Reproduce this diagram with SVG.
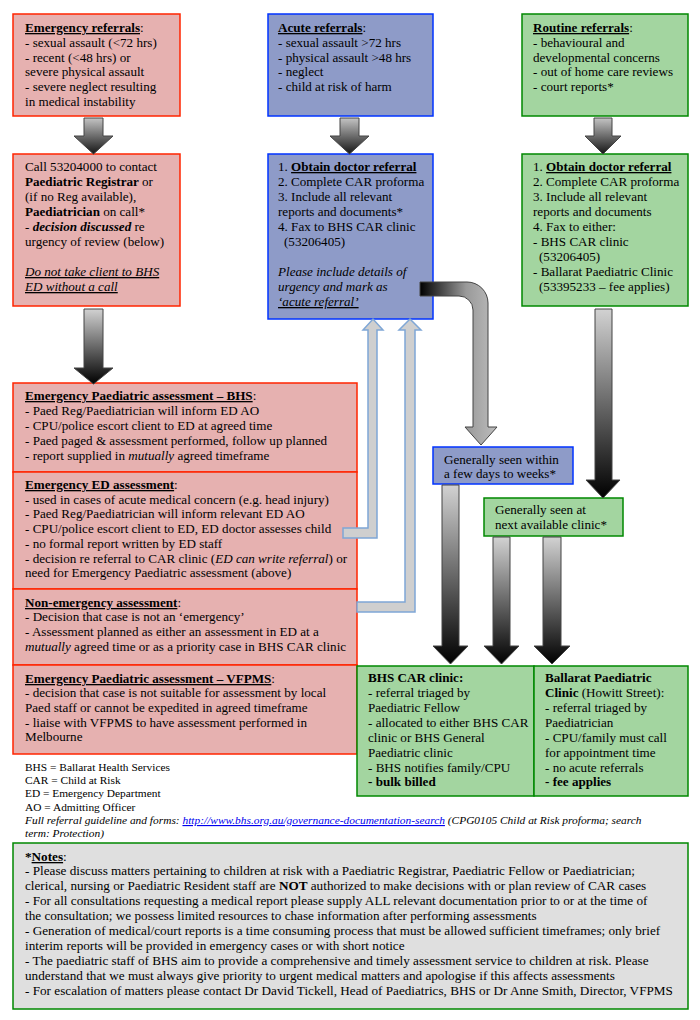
<svg xmlns="http://www.w3.org/2000/svg" width="700" height="1020" viewBox="0 0 700 1020">
<defs>
<style>
.t{font-family:"Liberation Serif","Times New Roman",serif;font-size:13.1px;fill:#000}
.n{font-size:13.2px}
.s{font-size:11.4px}
.b{font-weight:bold}
.i{font-style:italic}
.u{text-decoration:underline}
.lk{fill:#0000ee;text-decoration:underline}
.pk{fill:#e6b1b0;stroke:#ff2400;stroke-width:1.5}
.bl{fill:#8e9bc8;stroke:#0033ff;stroke-width:1.5}
.gr{fill:#a3d5a0;stroke:#008800;stroke-width:1.5}
.gy{fill:#dfdfdf;stroke:#008800;stroke-width:1.5}
.dk{stroke:#444;stroke-width:1}
.lt{fill:#cfcfcf;stroke:#7fa7d6;stroke-width:1.5}
</style>
<linearGradient id="gs" x1="0" y1="0" x2="0" y2="1"><stop offset="0" stop-color="#c4c4c4"/><stop offset="1" stop-color="#151515"/></linearGradient>
<linearGradient id="gl" x1="0" y1="0" x2="0" y2="1"><stop offset="0" stop-color="#d2d2d2"/><stop offset="1" stop-color="#000"/></linearGradient>
<linearGradient id="gc" x1="0" y1="0" x2="1" y2="0"><stop offset="0" stop-color="#000"/><stop offset="0.6" stop-color="#9a9a9a"/><stop offset="1" stop-color="#bdbdbd"/></linearGradient>
</defs>
<rect width="700" height="1020" fill="#fff"/>

<g id="emergency-referrals">
<rect class="pk" x="13" y="14" width="167" height="102"/>
<text class="t" x="25" y="32"><tspan class="b u">Emergency referrals</tspan>:</text>
<text class="t" x="25" y="47">- sexual assault (&lt;72 hrs)</text>
<text class="t" x="25" y="62">- recent (&lt;48 hrs) or</text>
<text class="t" x="25" y="76">severe physical assault</text>
<text class="t" x="25" y="91">- severe neglect resulting</text>
<text class="t" x="25" y="106">in medical instability</text>
</g>

<g id="emergency-call">
<rect class="pk" x="13" y="154" width="167" height="152"/>
<text class="t" x="25" y="171">Call 53204000 to contact</text>
<text class="t" x="25" y="186"><tspan class="b">Paediatric Registrar</tspan> or</text>
<text class="t" x="25" y="201">(if no Reg available),</text>
<text class="t" x="25" y="216"><tspan class="b">Paediatrician</tspan> on call*</text>
<text class="t" x="25" y="231">- <tspan class="b i">decision discussed</tspan> re</text>
<text class="t" x="25" y="246">urgency of review (below)</text>
<text class="t i u" x="25" y="276">Do not take client to BHS</text>
<text class="t i u" x="25" y="291">ED without a call</text>
</g>

<g id="acute-referrals">
<rect class="bl" x="268" y="14" width="165" height="102"/>
<text class="t" x="278" y="32"><tspan class="b u">Acute referrals</tspan>:</text>
<text class="t" x="278" y="47">- sexual assault &gt;72 hrs</text>
<text class="t" x="278" y="62">- physical assault &gt;48 hrs</text>
<text class="t" x="278" y="76">- neglect</text>
<text class="t" x="278" y="91">- child at risk of harm</text>
</g>

<g id="acute-steps">
<rect class="bl" x="268" y="154" width="165" height="165"/>
<text class="t" x="278" y="171">1. <tspan class="b u">Obtain doctor referral</tspan></text>
<text class="t" x="278" y="186">2. Complete CAR proforma</text>
<text class="t" x="278" y="201">3. Include all relevant</text>
<text class="t" x="278" y="216">reports and documents*</text>
<text class="t" x="278" y="231">4. Fax to BHS CAR clinic</text>
<text class="t" x="284" y="246">(53206405)</text>
<text class="t i" x="278" y="276">Please include details of</text>
<text class="t i" x="278" y="291">urgency and mark as</text>
<text class="t i u" x="278" y="306">‘acute referral’</text>
</g>

<g id="routine-referrals">
<rect class="gr" x="522" y="14" width="166" height="102"/>
<text class="t" x="533" y="32"><tspan class="b u">Routine referrals</tspan>:</text>
<text class="t" x="533" y="47">- behavioural and</text>
<text class="t" x="533" y="62">developmental concerns</text>
<text class="t" x="533" y="76">- out of home care reviews</text>
<text class="t" x="533" y="91">- court reports*</text>
</g>

<g id="routine-steps">
<rect class="gr" x="522" y="154" width="166" height="152"/>
<text class="t" x="533" y="171">1. <tspan class="b u">Obtain doctor referral</tspan></text>
<text class="t" x="533" y="186">2. Complete CAR proforma</text>
<text class="t" x="533" y="201">3. Include all relevant</text>
<text class="t" x="533" y="216">reports and documents</text>
<text class="t" x="533" y="231">4. Fax to either:</text>
<text class="t" x="533" y="246">- BHS CAR clinic</text>
<text class="t" x="539" y="261">(53206405)</text>
<text class="t" x="533" y="276">- Ballarat Paediatric Clinic</text>
<text class="t" x="539" y="291">(53395233 – fee applies)</text>
</g>

<g id="emergency-paed-bhs">
<rect class="pk" x="13" y="383" width="344" height="89"/>
<text class="t" x="25" y="400"><tspan class="b u">Emergency Paediatric assessment – BHS</tspan>:</text>
<text class="t" x="25" y="415">- Paed Reg/Paediatrician will inform ED AO</text>
<text class="t" x="25" y="430">- CPU/police escort client to ED at agreed time</text>
<text class="t" x="25" y="445">- Paed paged &amp; assessment performed, follow up planned</text>
<text class="t" x="25" y="460">- report supplied in <tspan class="i">mutually</tspan> agreed timeframe</text>
</g>

<g id="emergency-ed">
<rect class="pk" x="13" y="472" width="344" height="117"/>
<text class="t" x="25" y="489"><tspan class="b u">Emergency ED assessment</tspan>:</text>
<text class="t" x="25" y="504">- used in cases of acute medical concern (e.g. head injury)</text>
<text class="t" x="25" y="518">- Paed Reg/Paediatrician will inform relevant ED AO</text>
<text class="t" x="25" y="533">- CPU/police escort client to ED, ED doctor assesses child</text>
<text class="t" x="25" y="548">- no formal report written by ED staff</text>
<text class="t" x="25" y="563">- decision re referral to CAR clinic (<tspan class="i">ED can write referral</tspan>) or</text>
<text class="t" x="25" y="577">need for Emergency Paediatric assessment (above)</text>
</g>

<g id="non-emergency">
<rect class="pk" x="13" y="589" width="344" height="76"/>
<text class="t" x="25" y="607"><tspan class="b u">Non-emergency assessment</tspan>:</text>
<text class="t" x="25" y="621">- Decision that case is not an ‘emergency’</text>
<text class="t" x="25" y="636">- Assessment planned as either an assessment in ED at a</text>
<text class="t" x="25" y="651"><tspan class="i">mutually</tspan> agreed time or as a priority case in BHS CAR clinic</text>
</g>

<g id="emergency-vfpms">
<rect class="pk" x="13" y="665" width="344" height="89"/>
<text class="t" x="25" y="683"><tspan class="b u">Emergency Paediatric assessment – VFPMS</tspan>:</text>
<text class="t" x="25" y="697">- decision that case is not suitable for assessment by local</text>
<text class="t" x="25" y="712">Paed staff or cannot be expedited in agreed timeframe</text>
<text class="t" x="25" y="727">- liaise with VFPMS to have assessment performed in</text>
<text class="t" x="25" y="741">Melbourne</text>
</g>

<g id="seen-acute">
<rect class="bl" x="433" y="447" width="140" height="37"/>
<text class="t" x="444" y="464">Generally seen within</text>
<text class="t" x="444" y="478">a few days to weeks*</text>
</g>

<g id="seen-routine">
<rect class="gr" x="484" y="498" width="139" height="38"/>
<text class="t" x="495" y="514">Generally seen at</text>
<text class="t" x="495" y="529">next available clinic*</text>
</g>

<g id="bhs-car-clinic">
<rect class="gr" x="357" y="666" width="177" height="130"/>
<text class="t b" x="368" y="682">BHS CAR clinic:</text>
<text class="t" x="368" y="697">- referral triaged by</text>
<text class="t" x="368" y="712">Paediatric Fellow</text>
<text class="t" x="368" y="727">- allocated to either BHS CAR</text>
<text class="t" x="368" y="742">clinic or BHS General</text>
<text class="t" x="368" y="757">Paediatric clinic</text>
<text class="t" x="368" y="772">- BHS notifies family/CPU</text>
<text class="t b" x="368" y="786">- bulk billed</text>
</g>

<g id="ballarat-clinic">
<rect class="gr" x="534" y="666" width="154" height="130"/>
<text class="t b" x="545" y="682">Ballarat Paediatric</text>
<text class="t" x="545" y="697"><tspan class="b">Clinic</tspan> (Howitt Street):</text>
<text class="t" x="545" y="712">- referral triaged by</text>
<text class="t" x="545" y="727">Paediatrician</text>
<text class="t" x="545" y="742">- CPU/family must call</text>
<text class="t" x="545" y="757">for appointment time</text>
<text class="t" x="545" y="772">- no acute referrals</text>
<text class="t b" x="545" y="786">- fee applies</text>
</g>

<g id="legend">
<text class="t s" x="25" y="771">BHS = Ballarat Health Services</text>
<text class="t s" x="25" y="784">CAR = Child at Risk</text>
<text class="t s" x="25" y="797">ED = Emergency Department</text>
<text class="t s" x="25" y="811">AO = Admitting Officer</text>
<text class="t s i" x="25" y="824">Full referral guideline and forms: <tspan class="lk">http://www.bhs.org.au/governance-documentation-search</tspan> (CPG0105 Child at Risk proforma; search</text>
<text class="t s i" x="25" y="837">term: Protection)</text>
</g>

<g id="notes">
<rect class="gy" x="13" y="843" width="675" height="166"/>
<text class="t n" x="25" y="861"><tspan class="b">*</tspan><tspan class="b u">Notes</tspan>:</text>
<text class="t n" x="25" y="875">- Please discuss matters pertaining to children at risk with a Paediatric Registrar, Paediatric Fellow or Paediatrician;</text>
<text class="t n" x="25" y="890">clerical, nursing or Paediatric Resident staff are <tspan class="b">NOT</tspan> authorized to make decisions with or plan review of CAR cases</text>
<text class="t n" x="25" y="905">- For all consultations requesting a medical report please supply ALL relevant documentation prior to or at the time of</text>
<text class="t n" x="25" y="920">the consultation; we possess limited resources to chase information after performing assessments</text>
<text class="t n" x="25" y="935">- Generation of medical/court reports is a time consuming process that must be allowed sufficient timeframes; only brief</text>
<text class="t n" x="25" y="950">interim reports will be provided in emergency cases or with short notice</text>
<text class="t n" x="25" y="965">- The paediatric staff of BHS aim to provide a comprehensive and timely assessment service to children at risk. Please</text>
<text class="t n" x="25" y="980">understand that we must always give priority to urgent medical matters and apologise if this affects assessments</text>
<text class="t n" x="25" y="995">- For escalation of matters please contact Dr David Tickell, Head of Paediatrics, BHS or Dr Anne Smith, Director, VFPMS</text>
</g>

<g id="connectors">
<path class="dk" fill="url(#gs)" d="M84,118 H103 V136 H113 L93.5,154 L74,136 H84 Z"/>
<path class="dk" fill="url(#gs)" d="M340,118 H359 V136 H369 L349.5,154 L330,136 H340 Z"/>
<path class="dk" fill="url(#gs)" d="M594,118 H612 V136 H621 L603,154 L585,136 H594 Z"/>
<path class="dk" fill="url(#gl)" d="M84,309 H103 V368 H113 L93.5,384 L74,368 H84 Z"/>
<path class="dk" fill="url(#gl)" d="M595,309 H612 V480 H620 L603,498 L586,480 H595 Z"/>
<path class="dk" fill="url(#gc)" d="M420,282 H467 A21,21 0 0 1 488,303 V427 H497 L481,445 L465,427 H473 V310 A14,14 0 0 0 459,296 H420 Z"/>
<path class="dk" fill="url(#gl)" d="M442,485 H459 V646 H468 L450.5,664 L433,646 H442 Z"/>
<path class="dk" fill="url(#gl)" d="M493,537 H510 V646 H519 L501.5,664 L484,646 H493 Z"/>
<path class="dk" fill="url(#gl)" d="M543,537 H561 V646 H570 L552,664 L534,646 H543 Z"/>
<path class="lt" d="M343,528 H368 V330 H363 L373,319 L383,330 H377 V538 H343 Z"/>
<path class="lt" d="M357,602 H405 V330 H399 L410,319 L421,330 H415 V612 H357 Z"/>
</g>
</svg>
